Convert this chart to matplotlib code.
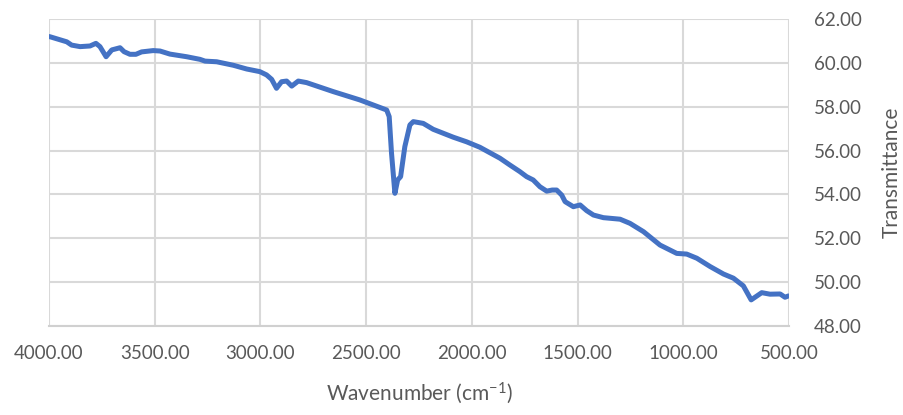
import matplotlib.pyplot as plt
import numpy as np

# FTIR spectrum, wavenumber (cm-1) vs transmittance
wavenumber = [4000, 3995, 3916, 3893, 3853, 3806, 3778, 3759, 3730, 3703, 3664,
              3645, 3617, 3589, 3562, 3507, 3475, 3428, 3349, 3286, 3262, 3207,
              3128, 3065, 3003, 2971, 2947, 2924, 2900, 2876, 2852, 2821, 2782,
              2656, 2530, 2403, 2391, 2380, 2364, 2351, 2337, 2317, 2293, 2277,
              2230, 2183, 2088, 2025, 1962, 1867, 1820, 1773, 1741, 1710, 1678,
              1646, 1620, 1599, 1575, 1559, 1520, 1488, 1457, 1425, 1378, 1299,
              1252, 1188, 1110, 1031, 984, 936, 873, 810, 763, 716, 679, 629,
              590, 542, 519, 503]
transmittance = [61.20, 61.19, 60.96, 60.81, 60.74, 60.77, 60.89, 60.74, 60.28,
                 60.59, 60.69, 60.51, 60.39, 60.39, 60.50, 60.56, 60.54, 60.40,
                 60.28, 60.16, 60.08, 60.05, 59.89, 59.72, 59.60, 59.45, 59.25,
                 58.84, 59.14, 59.17, 58.94, 59.17, 59.10, 58.69, 58.31, 57.85,
                 57.55, 55.88, 54.05, 54.66, 54.81, 56.18, 57.17, 57.32, 57.24,
                 56.97, 56.61, 56.40, 56.15, 55.65, 55.34, 55.04, 54.81, 54.66,
                 54.35, 54.15, 54.20, 54.20, 53.97, 53.67, 53.44, 53.52, 53.26,
                 53.06, 52.94, 52.87, 52.68, 52.30, 51.69, 51.31, 51.28, 51.09,
                 50.71, 50.37, 50.18, 49.83, 49.19, 49.52, 49.45, 49.46, 49.31,
                 49.37]

xticks = [4000, 3500, 3000, 2500, 2000, 1500, 1000, 500]
yticks = [48, 50, 52, 54, 56, 58, 60, 62]

plt.rcParams['font.family'] = ['Lato', 'DejaVu Sans']
grey = '#595959'

fig = plt.figure(figsize=(9.04, 4.15), dpi=100)
ax = fig.add_axes([0.0542, 0.2145, 0.8186, 0.7397])

ax.plot(wavenumber, transmittance, color='#4472C4', linewidth=3.6,
        solid_capstyle='round', solid_joinstyle='round', zorder=3)

ax.set_xlim(4000, 500)
ax.set_ylim(48, 62)
ax.set_xticks(xticks)
ax.set_yticks(yticks)
ax.set_xticklabels(['%.2f' % v for v in xticks])
ax.set_yticklabels(['%.2f' % v for v in yticks])

ax.yaxis.tick_right()
ax.yaxis.set_label_position('right')
ax.tick_params(axis='both', length=0, labelsize=13.5, colors=grey)
ax.tick_params(axis='x', pad=14)
ax.tick_params(axis='y', pad=18)

ax.grid(True, color='#d9d9d9', linewidth=1.5, zorder=0)
for side in ['top', 'right', 'left']:
    ax.spines[side].set_visible(False)
ax.spines['bottom'].set_color('#d0d0d0')
ax.spines['bottom'].set_linewidth(1.5)

ax.set_xlabel('Wavenumber (cm$\\mathregular{^{-1}}$)', fontsize=15, color=grey,
              labelpad=13)
ax.set_ylabel('Transmittance', fontsize=15, color=grey, labelpad=14)

fig.savefig('out.png', dpi=100, facecolor='white')
